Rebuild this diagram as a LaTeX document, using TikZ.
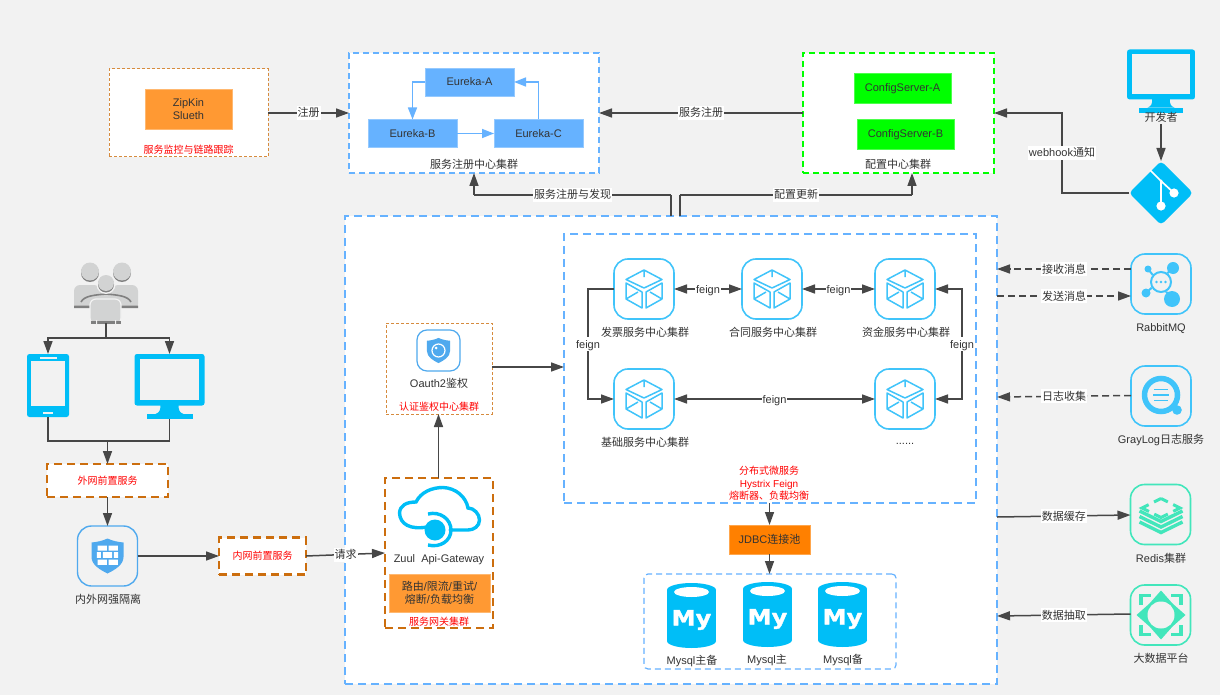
\documentclass[tikz,border=0pt]{standalone}
\usepackage{fontspec}
\setmainfont{Liberation Sans}
\newfontfamily\cjk{Noto Sans CJK SC}
\newfontfamily\logofont{DejaVu Sans}[BoldFeatures={FakeBold=1.5,FakeStretch=1.15}]
\usetikzlibrary{arrows.meta}
\newcommand\zh[1]{{\cjk #1}}
\definecolor{bg}{HTML}{F2F2F2}
\definecolor{txt}{HTML}{333333}
\definecolor{lblue}{HTML}{66B2FF}
\definecolor{cyanb}{HTML}{00BEF7}
\definecolor{skyb}{HTML}{40C4FA}
\definecolor{shieldb}{HTML}{4FA9EE}
\definecolor{teal}{HTML}{42E6BB}
\definecolor{orbox}{HTML}{FF9933}
\definecolor{jdbcor}{HTML}{FF8000}
\definecolor{ordash}{HTML}{CC6E0E}
\definecolor{ppl}{HTML}{D2D3D3}
\definecolor{ppd}{HTML}{808080}
\tikzset{
 sz/.style 2 args={minimum width=#1pt,minimum height=#2pt,inner sep=0pt,outer sep=0pt},
 multi/.style={text height={},text depth={}},
 lbl/.style={font=\fontsize{11}{13}\selectfont,text=txt,align=center,inner sep=0pt,text height=10pt,text depth=2pt},
 redt/.style={font=\fontsize{10}{12.5}\selectfont,text=red,align=center,inner sep=0pt,text height=9pt,text depth=2pt},
 elabel/.style={font=\fontsize{11}{13}\selectfont,text=txt,fill=white,inner sep=1pt,text height=10pt,text depth=2pt},
 conn/.style={draw=txt!90,line width=1.5pt,-{Triangle[length=13pt,width=9pt]}},
 biconn/.style={draw=txt!90,line width=1.5pt,{Triangle[length=13pt,width=9pt]}-{Triangle[length=13pt,width=9pt]}},
 plain/.style={draw=txt!90,line width=1.5pt},
 dconn/.style={conn,dash pattern=on 7pt off 4pt},
 bconn/.style={draw=lblue,line width=1.5pt,-{Triangle[length=12pt,width=9pt,fill=lblue]}},
 bigbox/.style={draw=lblue,fill=white,line width=2pt,dash pattern=on 8pt off 5pt},
 midbox/.style={draw=lblue,fill=white,line width=1.5pt,dash pattern=on 6pt off 4pt},
 grnbox/.style={draw=green,fill=white,line width=1.5pt,dash pattern=on 6pt off 4pt},
 thinor/.style={draw=ordash!80,fill=white,line width=1pt,dash pattern=on 3pt off 2pt},
 thickor/.style={draw=ordash,fill=white,line width=2.2pt,dash pattern=on 8pt off 5pt},
 solid1/.style={fill=#1,draw=#1!70!white,line width=.5pt,font=\fontsize{11}{13}\selectfont,text=txt,align=center,text height=10pt,text depth=2pt},
 sframe/.style={sz={60}{60},draw=skyb,line width=1.6pt,rounded corners=14pt},
 tframe/.style={sz={60}{60},draw=teal,line width=1.6pt,rounded corners=14pt},
 fwframe/.style={sz={60}{60},draw=shieldb,line width=1.4pt,rounded corners=14pt},
 oframe/.style={sz={43}{41},draw=shieldb,line width=1.2pt,rounded corners=10pt},
 cubeicon/.pic={
  \draw[skyb,line width=1.5pt,line join=round]
   (0,-19)--(18,-9.5)--(0,-1)--(-18,-9.5)--cycle
   (0,-19)--(0,-12)
   (-18,-6)--(-2,3)--(-2,19)--(-18,10)--cycle
   (-18,10)--(-6,3)
   (2,3)--(18,-6)--(18,10)--(2,19)--cycle
   (6,3)--(18,10);
 },
 monitoricon/.pic={
  \fill[cyanb,rounded corners=2.5pt] (-35,-32.5) rectangle (35,19);
  \fill[bg] (-29.5,-27.5) rectangle (29.5,13.5);
  \fill[cyanb] (-9,18) .. controls (-9,24) and (-10,26) .. (-14,27.5) -- (14,27.5) .. controls (10,26) and (9,24) .. (9,18) -- cycle;
  \fill[cyanb] (-23,27.5) rectangle (23,32.5);
 },
 phoneicon/.pic={
  \fill[cyanb,rounded corners=2.5pt] (-21,-31.5) rectangle (21,31.5);
  \fill[bg] (-17,-24.5) rectangle (17,20.5);
  \fill[bg] (-8.5,-29) rectangle (8.5,-27);
  \fill[bg] (-5,26) rectangle (5,28);
 },
 shieldicon/.pic={
  \fill[shieldb] (0,-17.5) .. controls (5,-15) and (11,-14) .. (16,-13.5) -- (16,1)
    .. controls (16,9) and (7,14) .. (0,17.5) .. controls (-7,14) and (-16,9) .. (-16,1)
    -- (-16,-13.5) .. controls (-11,-14) and (-5,-15) .. (0,-17.5) -- cycle;
 },
 wallicon/.pic={
  \pic {shieldicon};
  \fill[white] (-10,-10.5) rectangle (-.7,-5.5) (1,-10.5) rectangle (10.3,-5.5)
   (-10.7,-4) rectangle (-6.7,1.8) (-4.7,-4) rectangle (4.7,1.8) (6.3,-4) rectangle (10.7,1.8)
   (-10,3.5) rectangle (-.7,8.8) (1,3.5) rectangle (10.3,8.8);
 },
 mysqlicon/.pic={
  \fill[cyanb] (-24.5,-25.5) rectangle (24.5,25.5);
  \fill[cyanb] (0,-25.5) ellipse [x radius=24.5pt,y radius=7pt];
  \fill[cyanb] (0,25.5) ellipse [x radius=24.5pt,y radius=7pt];
  \fill[white] (0,-23.5) ellipse [x radius=17.5pt,y radius=5pt];
  \node[inner sep=0pt,text=white,font=\logofont\bfseries\fontsize{21}{21}\selectfont] (-my) at (0,4.5) {My};
 },
}
\begin{document}
\begin{tikzpicture}[x=1pt,y=-1pt]
\useasboundingbox (0,0) rectangle (1220,695);
\fill[bg] (0,0) rectangle (1220,695);

% containers
\node[thinor,sz={159}{88}] (mon) at (188.5,113) {};
\node[midbox,sz={250}{120}] (eur) at (474,113) {};
\node[grnbox,sz={191}{120}] (cfg) at (898.5,113) {};
\node[bigbox,sz={652}{468}] (main) at (671,450) {};
\node[bigbox,sz={412}{269}] (micro) at (770,368.5) {};
\node[thinor,sz={106}{91}] (oauth) at (439,368.5) {};
\node[thickor,sz={108}{150}] (gw) at (439,553) {};
\node[midbox,sz={252}{95},line width=1.2pt,rounded corners=4pt] (dbs) at (770,621.5) {};
\node[thickor,sz={121}{33}] (ext) at (107.5,480.5) {};
\node[thickor,sz={87}{37}] (intr) at (262.5,556) {};

% solid boxes
\node[solid1=orbox,multi,sz={87}{40}] (zip) at (188.5,109) {ZipKin\\Slueth};
\node[solid1=lblue,sz={89}{28}] (ea) at (469.5,82) {Eureka-A};
\node[solid1=lblue,sz={89}{28}] (eb) at (412.5,133.5) {Eureka-B};
\node[solid1=lblue,sz={89}{28}] (ec) at (538.5,133.5) {Eureka-C};
\node[solid1=green,sz={97}{30}] (ca) at (902.5,88) {ConfigServer-A};
\node[solid1=green,sz={97}{30}] (cb) at (905.5,134) {ConfigServer-B};
\node[solid1=orbox,multi,sz={101}{38}] (route) at (439.5,593) {\zh{路由}/\zh{限流}/\zh{重试}/\\\zh{熔断}/\zh{负载均衡}};
\node[solid1=jdbcor,sz={81}{29}] (jdbc) at (769.5,539.5) {JDBC\zh{连接池}};

% box captions
\node[redt] (t1) at (188.5,150) {\zh{服务监控与链路跟踪}};
\node[lbl] (t2) at (474,165) {\zh{服务注册中心集群}};
\node[lbl] (t3) at (898,165) {\zh{配置中心集群}};
\node[redt] (t4) at (107.5,480.5) {\zh{外网前置服务}};
\node[redt] (t5) at (262.5,555.5) {\zh{内网前置服务}};
\node[redt] (t6) at (439,407) {\zh{认证鉴权中心集群}};
\node[redt] (t7) at (439,622) {\zh{服务网关集群}};
\node[redt,multi] (t8) at (769,483.5) {\zh{分布式微服务}\\Hystrix Feign\\\zh{熔断器、负载均衡}};

% left icons
\node[sz={64}{61}] (people) at (106,292.5) {};
\fill[ppd] (90,273) circle (9pt) (122,273) circle (9pt);
\fill[ppl] (90,271.5) circle (9pt) (122,271.5) circle (9pt);
\fill[ppl,rounded corners=6pt] (74,310) -- (74,285) -- (100,285) -- (100,310) -- cycle;
\fill[ppl,rounded corners=6pt] (112,310) -- (112,285) -- (138,285) -- (138,310) -- cycle;
\fill[bg] (74,308) rectangle (138,312);
\fill[ppd] (74,305.5) rectangle (100,308) (112,305.5) rectangle (138,308);
\fill[ppl] (90,290) rectangle (122,304);
\draw[ppd,line width=1.6pt] (81,302) .. controls (84,296) and (94,295) .. (106,294) .. controls (118,295) and (128,296) .. (131,302);
\fill[bg] (106,284.5) circle (9.5pt);
\fill[ppd] (106,284.5) circle (8pt);
\fill[ppl] (106,283) circle (8pt);
\draw[bg,line width=1.2pt,fill=ppl,rounded corners=6pt] (90,324) -- (90,299) -- (121,299) -- (121,324) -- cycle;
\fill[ppd] (90.5,321) rectangle (120.5,323.5);
\fill[bg] (96,320) rectangle (97,324) (115,320) rectangle (116,324);

\node[sz={42}{63}] (phone) at (48,385.5) {};
\pic at (phone) {phoneicon};
\node[sz={70}{65}] (pc) at (169.5,386.5) {};
\pic at (pc) {monitoricon};
\node[fwframe] (fw) at (107.5,556) {};
\pic at (fw) {wallicon};
\node[lbl] (fwt) at (108,599) {\zh{内外网强隔离}};

% oauth + gateway
\node[oframe] (oi) at (438.5,350.5) {};
\pic[scale=.72] at (oi) {shieldicon};
\draw[white,line width=1.2pt] (438.5,350.5) circle (6.5pt);
\fill[white] (436,348) circle (1.5pt);
\node[lbl] (ot) at (439,383) {Oauth2\zh{鉴权}};
\node[sz={84}{56}] (cloud) at (439,515) {};
\draw[cyanb,line width=3.4pt,line cap=round] (427,527) .. controls (410,530) and (400,524) .. (399.5,513)
  .. controls (400,505) and (407,502) .. (416,502) .. controls (421,492) and (432,487.5) .. (443,487.5)
  .. controls (456,488) and (466,497) .. (468,508) .. controls (474,508) and (479.5,514) .. (479.5,520)
  .. controls (479.5,526) and (474,530) .. (468,530) -- (450,530);
\fill[cyanb] (435,530) circle (10.5pt);
\draw[cyanb,line width=3.4pt] (428,514) .. controls (440,511) and (451,519) .. (451,530) .. controls (451,541) and (440,548) .. (428,545);
\node[lbl] (gt) at (439,558) {Zuul\ \ Api-Gateway};

% services
\node[sframe] (fp) at (644,289) {}; \pic at (fp) {cubeicon};
\node[sframe] (ht) at (772,289) {}; \pic at (ht) {cubeicon};
\node[sframe] (zj) at (905,289) {}; \pic at (zj) {cubeicon};
\node[sframe] (jc) at (644,399) {}; \pic at (jc) {cubeicon};
\node[sframe] (dd) at (905,399) {}; \pic at (dd) {cubeicon};
\node[lbl] (fpt) at (645,332) {\zh{发票服务中心集群}};
\node[lbl] (htt) at (773,332) {\zh{合同服务中心集群}};
\node[lbl] (zjt) at (906,332) {\zh{资金服务中心集群}};
\node[lbl] (jct) at (645,442) {\zh{基础服务中心集群}};
\node[lbl] (ddt) at (905,440) {......};

% mysql
\node[sz={49}{65}] (my1) at (691.5,615.5) {};
\pic (p1) at (my1) {mysqlicon};
\node[sz={49}{65}] (my2) at (767.5,614.5) {};
\pic (p2) at (my2) {mysqlicon};
\node[sz={49}{65}] (my3) at (842.5,614.5) {};
\pic (p3) at (my3) {mysqlicon};
\node[lbl] (my1t) at (692,660) {Mysql\zh{主备}};
\node[lbl] (my2t) at (767,659) {Mysql\zh{主}};
\node[lbl] (my3t) at (843,659) {Mysql\zh{备}};

% developer + git
\node[sz={68}{62}] (dev) at (1161,81) {};
\pic[scale=.97] at (dev) {monitoricon};
\node[lbl] (devt) at (1161,118) {\zh{开发者}};
\node[sz={64}{64}] (git) at (1161,193) {};
\fill[cyanb,rounded corners=4pt] (1161,161) -- (1193,193) -- (1161,225) -- (1129,193) -- cycle;
\draw[white,line width=1.7pt] (1150,170) -- (1161,181) -- (1174,193) (1161,181) -- (1161,206);
\fill[white] (1161,206) circle (4.6pt) (1174,193) circle (4.6pt) (1161,181) circle (1.5pt);

% right icons
\node[sframe] (rb) at (1161,284) {};
\draw[skyb,line width=2pt] (1148,269) -- (1172,299) (1173,268) -- (1146,293);
\fill[skyb] (1148,269) circle (3.5pt) (1173,268) circle (6pt) (1146,293) circle (4.5pt) (1172,299) circle (8pt);
\fill[bg] (1161,282) circle (11pt);
\draw[skyb,line width=2pt] (1161,282) circle (10pt);
\fill[skyb] (1156.5,282) circle (1.3pt) (1161,282) circle (1.3pt) (1165.5,282) circle (1.3pt);
\node[lbl] (rbt) at (1161,327) {RabbitMQ};

\node[sframe] (gl) at (1161,396) {};
\draw[skyb,line width=5.5pt] (1161,395) circle (16.5pt);
\fill[skyb] (1177,410) circle (4.8pt);
\draw[skyb,line width=1.8pt] (1154,389.5) -- (1168,389.5) (1153,395) -- (1169,395) (1154,400.5) -- (1168,400.5);
\node[lbl] (glt) at (1161,439) {GrayLog\zh{日志服务}};

\node[tframe] (rd) at (1160.5,514.5) {};
\draw[teal,line width=3pt,dash pattern=on 15.2pt off 6pt,dash phase=7.6pt] (1161,498.5) -- (1180,508) -- (1161,517.5) -- (1142,508) -- cycle;
\draw[teal,line width=3.4pt] (1139.5,511) -- (1161,521.5) -- (1182.5,511) (1139.5,516.5) -- (1161,527) -- (1182.5,516.5) (1139.5,522) -- (1161,532.5) -- (1182.5,522);
\node[lbl] (rdt) at (1161,558) {Redis\zh{集群}};

\node[tframe] (bd) at (1160.5,615) {};
\draw[teal,line width=3.4pt] (1141,605) -- (1141,595.5) -- (1151,595.5) (1171,595.5) -- (1181,595.5) -- (1181,605) (1181,625) -- (1181,634.5) -- (1171,634.5) (1151,634.5) -- (1141,634.5) -- (1141,625);
\fill[teal] (1161,590.5) -- (1172.5,603.5) -- (1185.5,615) -- (1172.5,626.5) -- (1161,639.5) -- (1149.5,626.5) -- (1136.5,615) -- (1149.5,603.5) -- cycle;
\fill[bg] (1161,615) circle (13.5pt);
\node[lbl] (bdt) at (1161,658) {\zh{大数据平台}};

% named free ends
\coordinate (js) at (106,338);
\coordinate (jm) at (107.5,441);
\coordinate (m1) at (671,195);
\coordinate (m1e) at (474,195);
\coordinate (m2) at (680,216);
\coordinate (m2t) at (680,195);
\coordinate (m2e) at (912,195);
\coordinate (m2c) at (912,173);
\coordinate (wh) at (1062,153);
\coordinate (fl) at (588,344);
\coordinate (fr) at (962,344);
\coordinate (r1a) at (1131,269);
\coordinate (r1b) at (997,269);
\coordinate (r2a) at (997,296);
\coordinate (r2b) at (1131,296);
\coordinate (g1a) at (1131,395.5);
\coordinate (g1b) at (997,397);
\coordinate (d1a) at (997,517);
\coordinate (d1b) at (1130.5,515);
\coordinate (d2a) at (1130.5,614);
\coordinate (d2b) at (997,616);
\coordinate (oa) at (492,367);
\coordinate (ob) at (564,367);
\coordinate (gn) at (438.5,478);
\coordinate (on) at (438.5,414);
\coordinate (ea1) at (425,82);
\coordinate (ec1) at (514,82);
\coordinate (jt) at (769.5,503);
\coordinate (dt) at (769.5,574);

% connectors
\draw[plain] (people.south) -- (js);
\draw[conn] (js) -| (phone.north);
\draw[conn] (js) -| (pc.north);
\draw[plain] (phone.south) |- (jm);
\draw[plain] (pc.south) |- (jm);
\draw[conn] (jm) -- (ext.north);
\draw[conn] (ext.south) -- (fw.north);
\draw[conn] (fw.east) -- (intr.west);
\draw[conn] (intr.east) -- node[elabel]{\zh{请求}} (gw.west);
\draw[conn] (gn) -- (on);
\draw[conn] (oa) -- (ob);
\draw[conn] (mon.east) -- node[elabel]{\zh{注册}} (eur.west);
\draw[conn] (cfg.west) -- node[elabel]{\zh{服务注册}} (eur.east);
\draw[plain] (main.north) -- (m1);
\draw[plain] (m1) -- node[elabel]{\zh{服务注册与发现}} (m1e);
\draw[conn] (m1e) -- (eur.south);
\draw[plain] (m2) -- (m2t);
\draw[plain] (m2t) -- node[elabel]{\zh{配置更新}} (m2e);
\draw[conn] (m2e) -- (m2c);
\draw[conn] (devt.south) -- (git.north);
\draw[plain] (git.west) -| (wh);
\draw[conn] (wh) |- (cfg.east);
\node[elabel] (whl) at (wh) {webhook\zh{通知}};
\draw[bconn] (ea1) -| (eb.north);
\draw[bconn] (eb.east) -- (ec.west);
\draw[bconn] (ec.north) |- (ec1);
\draw[biconn] (fp.east) -- node[elabel]{feign} (ht.west);
\draw[biconn] (ht.east) -- node[elabel]{feign} (zj.west);
\draw[biconn] (jc.east) -- node[elabel]{feign} (dd.west);
\draw[conn] (fp.west) -| (fl) |- (jc.west);
\node[elabel] (fll) at (fl) {feign};
\draw[biconn] (zj.east) -| (fr) |- (dd.east);
\node[elabel] (frl) at (fr) {feign};
\draw[conn] (jt) -- (jdbc.north);
\draw[conn] (jdbc.south) -- (dt);
\draw[dconn] (r1a) -- node[elabel]{\zh{接收消息}} (r1b);
\draw[dconn] (r2a) -- node[elabel]{\zh{发送消息}} (r2b);
\draw[dconn] (g1a) -- node[elabel]{\zh{日志收集}} (g1b);
\draw[conn] (d1a) -- node[elabel]{\zh{数据缓存}} (d1b);
\draw[conn] (d2a) -- node[elabel]{\zh{数据抽取}} (d2b);
\end{tikzpicture}
\end{document}
